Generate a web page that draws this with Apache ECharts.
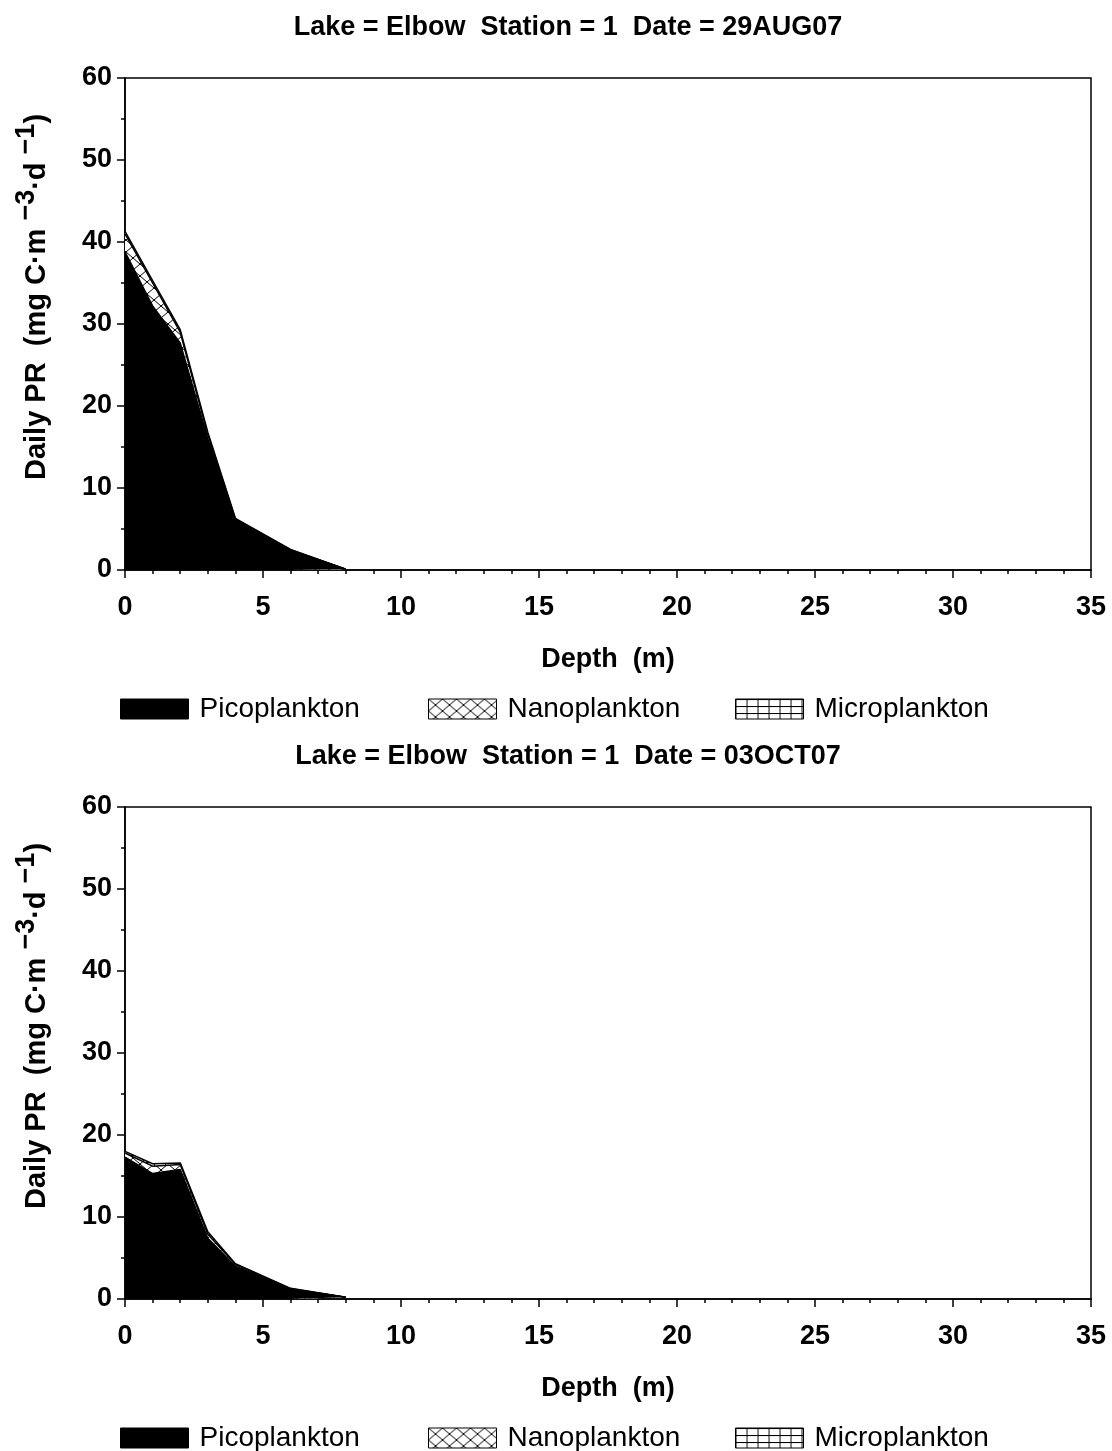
<!DOCTYPE html>
<html>
<head>
<meta charset="utf-8">
<script src="https://cdn.jsdelivr.net/npm/echarts@6/dist/echarts.min.js"></script>
<style>
  html, body { margin: 0; padding: 0; background: #fff; }
  #chart { width: 1112px; height: 1451px; }
</style>
</head>
<body>
<div id="chart"></div>
<script>
// depths sampled (m)
const depths = [0, 1, 2, 3, 4, 6, 8];

// 29AUG07
const picoAug = [38.8, 32.2, 27.7, 16.0, 6.1, 2.4, 0.1];
const nanoAug = [2.2, 2.8, 1.3, 0.5, 0.1, 0.05, 0];
const microAug = [0.3, 0.3, 0.3, 0.3, 0.1, 0.05, 0];

// 03OCT07
const picoOct = [17.3, 15.3, 15.8, 7.4, 4.0, 1.2, 0.2];
const nanoOct = [0.5, 0.9, 0.6, 0.5, 0.2, 0.05, 0];
const microOct = [0.2, 0.3, 0.2, 0.3, 0.1, 0.05, 0];

const titles = [
  'Lake = Elbow  Station = 1  Date = 29AUG07',
  'Lake = Elbow  Station = 1  Date = 03OCT07'
];
const seriesNames = ['Picoplankton', 'Nanoplankton', 'Microplankton'];

const FONT = 'Liberation Sans';

// fill patterns
function makePattern(w, h, draw) {
  const c = document.createElement('canvas');
  c.width = w; c.height = h;
  const ctx = c.getContext('2d');
  ctx.fillStyle = '#fff';
  ctx.fillRect(0, 0, w, h);
  ctx.strokeStyle = '#000';
  ctx.lineWidth = 1;
  draw(ctx, w, h);
  return { image: c, repeat: 'repeat' };
}

const crossHatch = makePattern(14, 12, (ctx, w, h) => {
  ctx.beginPath();
  ctx.moveTo(0, 0); ctx.lineTo(w, h);
  ctx.moveTo(0, h); ctx.lineTo(w, 0);
  ctx.stroke();
});

const gridHatch = makePattern(11, 7, (ctx, w, h) => {
  ctx.beginPath();
  ctx.moveTo(0.5, 0); ctx.lineTo(0.5, h);
  ctx.moveTo(0, 0.5); ctx.lineTo(w, 0.5);
  ctx.stroke();
});

const fills = ['#000', crossHatch, gridHatch];

const panels = [
  { top: 78, title: titles[0], data: [picoAug, nanoAug, microAug] },
  { top: 807, title: titles[1], data: [picoOct, nanoOct, microOct] }
];
const plotH = 492;

const chart = echarts.init(document.getElementById('chart'));

const option = {
  animation: false,
  backgroundColor: '#fff',
  title: [],
  legend: [],
  grid: [],
  xAxis: [],
  yAxis: [],
  series: []
};

const legendLefts = [120, 428, 735];

panels.forEach((p, gi) => {
  option.title.push({
    text: p.title,
    left: 563,
    textAlign: 'center',
    top: p.top - 69,
    textStyle: { fontFamily: FONT, fontSize: 27, fontWeight: 'bold', color: '#000' }
  });

  seriesNames.forEach((name, si) => {
    option.legend.push({
      data: [{
        name: name,
        icon: 'rect',
        itemStyle: { color: fills[si], borderColor: '#000', borderWidth: 1 }
      }],
      left: legendLefts[si],
      top: p.top + plotH + 125,
      padding: 0,
      itemWidth: 68,
      itemHeight: 20,
      itemGap: 12,
      selectedMode: false,
      textStyle: { fontFamily: FONT, fontSize: 28, color: '#000', padding: [0, 0, 0, 6] }
    });
  });

  option.grid.push({
    left: 125,
    top: p.top,
    width: 966,
    height: plotH,
    show: true,
    borderColor: '#000',
    borderWidth: 1.5,
    backgroundColor: 'transparent'
  });

  option.xAxis.push({
    type: 'value',
    gridIndex: gi,
    min: 0,
    max: 35,
    interval: 5,
    name: 'Depth  (m)',
    nameLocation: 'middle',
    nameGap: 76,
    nameTextStyle: { fontFamily: FONT, fontSize: 27, fontWeight: 'bold', color: '#000' },
    axisLine: { lineStyle: { color: '#000', width: 1.5 } },
    axisTick: { inside: false, length: 8, lineStyle: { color: '#000', width: 1.5 } },
    minorTick: { show: true, splitNumber: 5, length: 4, lineStyle: { color: '#000', width: 1.5 } },
    splitLine: { show: false },
    axisLabel: { fontFamily: FONT, fontSize: 27, fontWeight: 'bold', color: '#000', margin: 24 }
  });

  option.yAxis.push({
    type: 'value',
    gridIndex: gi,
    min: 0,
    max: 60,
    interval: 10,
    name: '{a|Daily PR  (mg C·m }{s|−3}{a|·d }{s|−1}{a|)}',
    nameLocation: 'middle',
    nameGap: 74,
    nameTextStyle: {
      padding: [0, 0, 0, 54],
      rich: {
        a: { fontFamily: FONT, fontSize: 29, fontWeight: 'bold', color: '#000', verticalAlign: 'bottom', lineHeight: 38 },
        s: { fontFamily: FONT, fontSize: 27, fontWeight: 'bold', color: '#000', verticalAlign: 'top', lineHeight: 38 }
      }
    },
    axisLine: { show: true, lineStyle: { color: '#000', width: 1.5 } },
    axisTick: { show: true, inside: false, length: 8, lineStyle: { color: '#000', width: 1.5 } },
    minorTick: { show: true, splitNumber: 2, length: 4, lineStyle: { color: '#000', width: 1.5 } },
    splitLine: { show: false },
    axisLabel: { fontFamily: FONT, fontSize: 27, fontWeight: 'bold', color: '#000', margin: 13 }
  });

  // cumulative layers drawn back to front: total (micro on top), pico+nano, pico
  const [pico, nano, micro] = p.data;
  const layers = [
    depths.map((d, i) => [d, pico[i] + nano[i] + micro[i]]),
    depths.map((d, i) => [d, pico[i] + nano[i]]),
    depths.map((d, i) => [d, pico[i]])
  ];
  [2, 1, 0].forEach((si, k) => {
    option.series.push({
      name: seriesNames[si],
      type: 'line',
      xAxisIndex: gi,
      yAxisIndex: gi,
      symbol: 'none',
      z: 2 + k,
      data: layers[k],
      lineStyle: { color: '#000', width: 1.5 },
      itemStyle: { color: fills[si] },
      areaStyle: { color: fills[si], opacity: 1, origin: 'start' }
    });
  });
});

chart.setOption(option);
</script>
</body>
</html>
